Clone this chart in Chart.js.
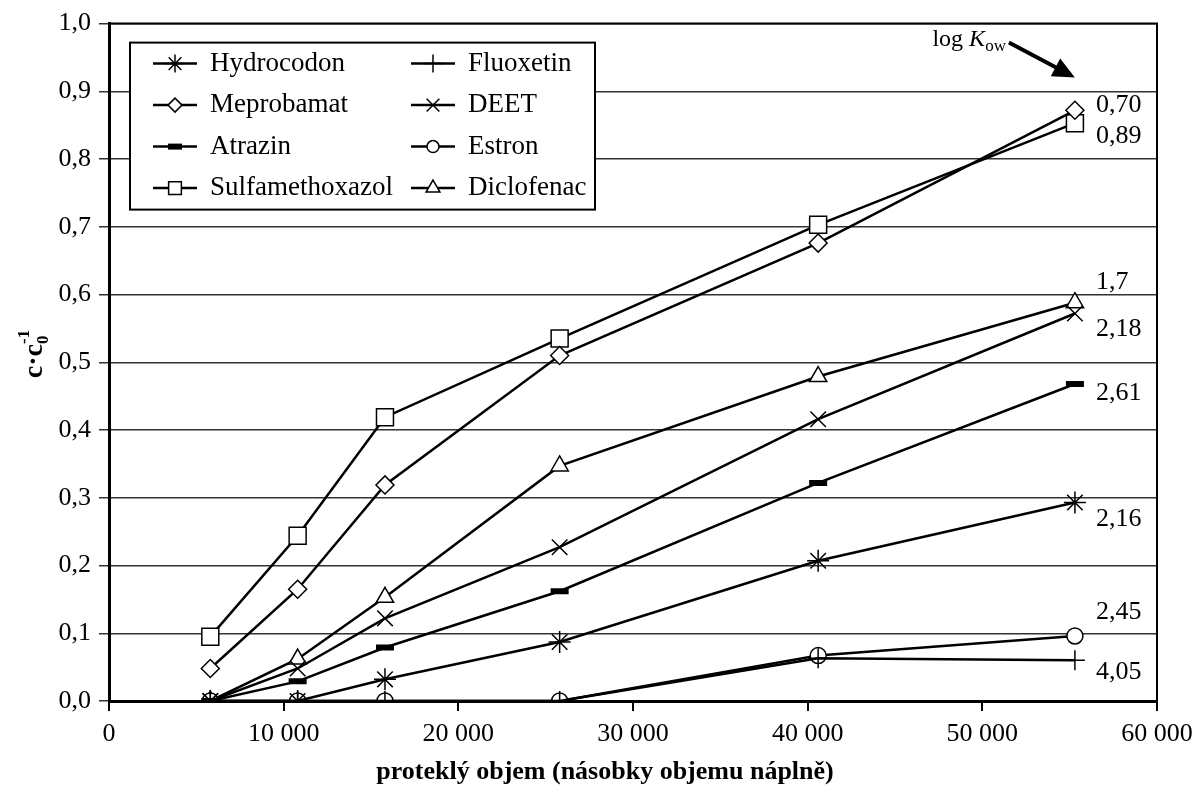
<!DOCTYPE html>
<html>
<head>
<meta charset="utf-8">
<script src="https://cdn.jsdelivr.net/npm/chart.js@4.4.0/dist/chart.umd.min.js"></script>
<style>
html, body { margin: 0; padding: 0; background: #fff; }
canvas { display: block; }
</style>
</head>
<body>
<canvas id="canvas" width="1197" height="787"></canvas>
<script>
// protekly objem (x) a pomer c/c0 pro jednotlive latky
const objem = [5800, 10800, 15800, 25800, 40600, 55300];
const hydrocodon = [0, 0, 0.032, 0.087, 0.207, 0.293];
const meprobamat = [0.048, 0.165, 0.319, 0.51, 0.676, 0.872];
const atrazin = [0, 0.029, 0.079, 0.162, 0.322, 0.468];
const sulfamethoxazol = [0.095, 0.244, 0.419, 0.535, 0.703, 0.853];
const fluoxetin = [0, 0, 0, 0, 0.063, 0.06];
const deet = [0, 0.048, 0.122, 0.227, 0.416, 0.572];
const estron = [0, 0, 0, 0, 0.067, 0.096];
const diclofenac = [0, 0.062, 0.153, 0.347, 0.479, 0.588];

const nazvy = ['Hydrocodon', 'Meprobamat', 'Atrazin', 'Sulfamethoxazol', 'Fluoxetin', 'DEET', 'Estron', 'Diclofenac'];
const logKow = ['2,16', '0,70', '2,61', '0,89', '4,05', '2,18', '2,45', '1,7'];
const xMin = 0, xMax = 60000, xStep = 10000;
const yMin = 0, yMax = 1, yStep = 0.1;

const serie = [hydrocodon, meprobamat, atrazin, sulfamethoxazol, fluoxetin, deet, estron, diclofenac];
const styly = [
  { pointStyle: 'star', r: 11, bw: 1.5, lr: 9 },
  { pointStyle: 'rectRot', r: 9, bw: 1.5, lr: 7 },
  { pointStyle: 'line', r: 9, bw: 6, lr: 7 },
  { pointStyle: 'rect', r: 12, bw: 1.5, lr: 9 },
  { pointStyle: 'cross', r: 10, bw: 1.5, lr: 9 },
  { pointStyle: 'crossRot', r: 11, bw: 1.5, lr: 9 },
  { pointStyle: 'circle', r: 8, bw: 1.5, lr: 6 },
  { pointStyle: 'triangle', r: 10, bw: 1.5, lr: 8 }
];
// posun popisku log Kow od posledniho bodu
const kowDy = [17, -5, 9, 13, 12, 16, -24, -21];

const FONT = "'Liberation Serif', 'Times New Roman', serif";

const datasets = serie.map(function (s, i) {
  return {
    label: nazvy[i],
    data: s.map(function (v, j) { return { x: objem[j], y: v }; }),
    borderColor: '#000',
    borderWidth: 2.5,
    backgroundColor: '#fff',
    pointStyle: styly[i].pointStyle,
    pointRadius: styly[i].r,
    pointBorderWidth: styly[i].bw,
    pointBackgroundColor: '#fff',
    pointBorderColor: '#000',
    tension: 0
  };
});

const popisky = {
  id: 'popisky',
  afterDatasetsDraw(chart) {
    const ctx = chart.ctx;
    const xs = chart.scales.x, ys = chart.scales.y;
    const area = chart.chartArea;
    ctx.save();

    // log Kow u konce krivek
    ctx.fillStyle = '#000';
    ctx.font = '26px ' + FONT;
    ctx.textAlign = 'left';
    ctx.textBaseline = 'middle';
    serie.forEach(function (s, i) {
      const last = s.length - 1;
      const px = xs.getPixelForValue(objem[last]);
      const py = ys.getPixelForValue(s[last]);
      ctx.fillText(logKow[i], px + 21, py + kowDy[i]);
    });

    // sipka log Kow
    const tipX = xs.getPixelForValue(objem[objem.length - 1]);
    const tipY = area.top + 54;
    const startX = tipX - 66, startY = area.top + 19;
    const ang = Math.atan2(tipY - startY, tipX - startX);
    ctx.strokeStyle = '#000';
    ctx.lineWidth = 4;
    ctx.beginPath();
    ctx.moveTo(startX, startY);
    ctx.lineTo(tipX - 16 * Math.cos(ang), tipY - 16 * Math.sin(ang));
    ctx.stroke();
    ctx.beginPath();
    ctx.moveTo(tipX, tipY);
    ctx.lineTo(tipX - 22 * Math.cos(ang) + 10 * Math.sin(ang), tipY - 22 * Math.sin(ang) - 10 * Math.cos(ang));
    ctx.lineTo(tipX - 22 * Math.cos(ang) - 10 * Math.sin(ang), tipY - 22 * Math.sin(ang) + 10 * Math.cos(ang));
    ctx.closePath();
    ctx.fill();

    ctx.textAlign = 'left';
    ctx.textBaseline = 'alphabetic';
    ctx.font = '24px ' + FONT;
    const wLog = ctx.measureText('log ').width;
    ctx.font = 'italic 24px ' + FONT;
    const wK = ctx.measureText('K').width;
    ctx.font = '17px ' + FONT;
    const wOw = ctx.measureText('ow').width;
    let tx = startX - 3 - (wLog + wK + wOw);
    const ty = area.top + 22;
    ctx.font = '24px ' + FONT;
    ctx.fillText('log ', tx, ty);
    tx += wLog;
    ctx.font = 'italic 24px ' + FONT;
    ctx.fillText('K', tx, ty);
    tx += wK;
    ctx.font = '17px ' + FONT;
    ctx.fillText('ow', tx, ty + 5);

    // legenda
    const lx = area.left + 21, ly = area.top + 19;
    const lw = 465, lh = 167;
    ctx.fillStyle = '#fff';
    ctx.fillRect(lx, ly, lw, lh);
    ctx.strokeStyle = '#000';
    ctx.lineWidth = 2;
    ctx.strokeRect(lx, ly, lw, lh);
    ctx.font = '27px ' + FONT;
    ctx.textBaseline = 'middle';
    nazvy.forEach(function (n, i) {
      const col = Math.floor(i / 4), row = i % 4;
      const x0 = lx + 23 + col * 258;
      const y0 = ly + 21 + row * 41.5;
      ctx.strokeStyle = '#000';
      ctx.lineWidth = 2.5;
      ctx.beginPath();
      ctx.moveTo(x0, y0);
      ctx.lineTo(x0 + 44, y0);
      ctx.stroke();
      if (Chart.helpers && Chart.helpers.drawPoint) {
        ctx.fillStyle = '#fff';
        ctx.lineWidth = styly[i].bw;
        Chart.helpers.drawPoint(ctx, {
          pointStyle: styly[i].pointStyle,
          radius: styly[i].lr,
          rotation: 0,
          borderWidth: styly[i].bw
        }, x0 + 22, y0);
      }
      ctx.fillStyle = '#000';
      ctx.fillText(n, x0 + 57, y0);
    });
    ctx.restore();
  },
  afterDraw(chart) {
    const ctx = chart.ctx;
    const area = chart.chartArea;
    ctx.save();
    // ramecek nahore a vpravo
    ctx.strokeStyle = '#000';
    ctx.lineWidth = 2;
    ctx.beginPath();
    ctx.moveTo(area.left, area.top);
    ctx.lineTo(area.right, area.top);
    ctx.lineTo(area.right, area.bottom);
    ctx.stroke();

    // nazev osy x
    ctx.fillStyle = '#000';
    ctx.font = 'bold 26px ' + FONT;
    ctx.textAlign = 'center';
    ctx.textBaseline = 'middle';
    ctx.fillText('protekl\u00fd objem (n\u00e1sobky objemu n\u00e1pln\u011b)', 605, 772);

    // nazev osy y: c·c0^-1
    ctx.translate(42, 354);
    ctx.rotate(-Math.PI / 2);
    ctx.textBaseline = 'alphabetic';
    ctx.textAlign = 'left';
    ctx.font = 'bold 28px ' + FONT;
    const wMain = ctx.measureText('c\u00b7c').width;
    ctx.font = 'bold 17px ' + FONT;
    const wSup = ctx.measureText('-1').width;
    let tx = -(wMain + wSup) / 2;
    ctx.font = 'bold 28px ' + FONT;
    ctx.fillText('c\u00b7c', tx, 0);
    tx += wMain;
    ctx.font = 'bold 17px ' + FONT;
    ctx.fillText('0', tx, 6);
    ctx.fillText('-1', tx, -13);
    ctx.restore();
  }
};

const config = {
  type: 'line',
  data: { datasets: datasets },
  options: {
    responsive: false,
    animation: false,
    devicePixelRatio: 1,
    layout: { padding: { top: 21, right: 40, bottom: 0, left: 0 } },
    plugins: {
      legend: { display: false },
      tooltip: { enabled: false }
    },
    scales: {
      x: {
        type: 'linear',
        min: xMin,
        max: xMax,
        afterFit: function (scale) {
          scale.height = 86;
          scale.paddingRight = 0;
          scale.paddingLeft = 0;
        },
        border: { display: true, color: '#000', width: 3 },
        grid: { drawOnChartArea: false, drawTicks: true, tickLength: 10, color: '#000', lineWidth: 2 },
        ticks: {
          stepSize: xStep,
          color: '#000',
          padding: 8,
          maxRotation: 0,
          font: { family: FONT, size: 26 },
          callback: function (v) { return v === 0 ? '0' : (v / 1000) + ' 000'; }
        }
      },
      y: {
        min: yMin,
        max: yMax,
        afterFit: function (scale) { scale.width = 109; },
        border: { display: true, color: '#000', width: 3 },
        grid: { color: '#333', lineWidth: 1.5, tickLength: 10 },
        ticks: {
          stepSize: yStep,
          color: '#000',
          padding: 8,
          font: { family: FONT, size: 26 },
          callback: function (v) { return v.toFixed(1).replace('.', ','); }
        }
      }
    }
  },
  plugins: [popisky]
};

const canvas = document.getElementById('canvas');
const chart = new Chart(canvas, config);
</script>
</body>
</html>
